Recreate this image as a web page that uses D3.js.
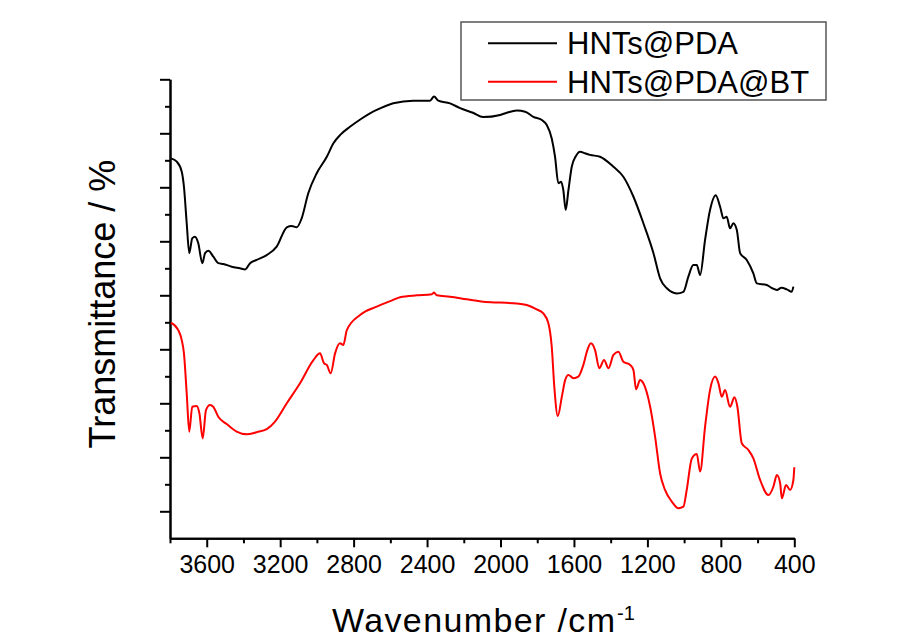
<!DOCTYPE html>
<html>
<head>
<meta charset="utf-8">
<script src="https://cdn.jsdelivr.net/npm/d3@7"></script>
<style>
  body { margin: 0; background: #fff; }
  svg { display: block; font-family: "Liberation Sans", Arial, sans-serif; }
</style>
</head>
<body>
<svg id="chart"></svg>
<script>
// FTIR spectra, wavenumber (cm-1) vs transmittance (arbitrary offset units)
const seriesNames = ["HNTs@PDA", "HNTs@PDA@BT"];
const seriesColors = ["#000000", "#ff0000"];

const pdaWn = [3795, 3763, 3736, 3724, 3709, 3695, 3679, 3664, 3646, 3624, 3609, 3591, 3564, 3537, 3510, 3464, 3419, 3391, 3364, 3328,
  3273, 3219, 3164, 3137, 3110, 3083, 3047, 3001, 2946, 2910, 2870, 2820, 2760, 2711, 2650, 2584, 2475, 2384, 2362, 2339,
  2275, 2220, 2150, 2095, 2002, 1966, 1911, 1866, 1821, 1775, 1748, 1721, 1703, 1685, 1670, 1658, 1645, 1630, 1612, 1590,
  1567, 1540, 1512, 1458, 1385, 1331, 1276, 1222, 1167, 1131, 1094, 1040, 1004, 977, 950, 931, 913, 886, 859, 828,
  804, 786, 768, 750, 732, 713, 695, 659, 623, 604, 550, 520, 495, 470, 441, 414, 405];
const pdaT = [140.7, 139.5, 135.8, 130.2, 116.7, 105.6, 111.1, 111.7, 109.3, 101.9, 105.6, 106.5, 104.3, 101.9, 101.6, 100.6, 100.0, 99.6, 101.9, 103.1,
  104.9, 108.0, 115.2, 115.7, 115.2, 118.5, 127.8, 135.2, 141.3, 146.3, 149.6, 152.4, 155.3, 157.4, 159.4, 161.1, 162.1, 162.1, 163.6, 162.1,
  161.1, 159.3, 157.6, 156.0, 156.8, 157.6, 158.4, 158.0, 156.1, 154.9, 153.1, 148.1, 141.3, 131.5, 132.1, 129.0, 121.6, 129.0, 137.6, 141.5,
  143.2, 142.6, 142.0, 141.3, 137.6, 133.9, 126.5, 116.7, 105.6, 96.3, 92.6, 90.7, 91.3, 96.9, 101.2, 101.2, 97.5, 110.5, 121.6, 127.1,
  122.8, 118.5, 119.1, 114.8, 116.7, 114.2, 105.6, 103.1, 98.1, 94.4, 93.8, 92.6, 92.0, 92.8, 92.2, 91.3, 93.2];

const btWn = [3795, 3755, 3736, 3724, 3709, 3695, 3679, 3655, 3640, 3622, 3604, 3582, 3564, 3537, 3491, 3437, 3382, 3328, 3273, 3228,
  3164, 3092, 3019, 2983, 2961, 2946, 2925, 2901, 2874, 2856, 2837, 2765, 2674, 2584, 2547, 2456, 2374, 2362, 2347, 2275,
  2184, 2093, 2002, 1911, 1857, 1803, 1767, 1739, 1721, 1707, 1688, 1666, 1648, 1630, 1603, 1576, 1549, 1527, 1508, 1485,
  1462, 1436, 1412, 1385, 1358, 1331, 1294, 1276, 1262, 1240, 1222, 1185, 1158, 1131, 1104, 1067, 1031, 1004, 986, 958,
  931, 913, 886, 859, 831, 813, 795, 777, 750, 726, 710, 686, 650, 623, 586, 541, 514, 495, 477, 468,
  445, 423, 405, 400];
const btT = [79.9, 77.1, 73.4, 68.5, 53.7, 39.5, 48.7, 49.0, 46.3, 37.0, 47.5, 49.4, 48.7, 45.0, 42.3, 39.5, 38.5, 39.3, 40.4, 43.2,
  50.0, 57.4, 66.0, 68.5, 64.8, 64.2, 61.1, 68.5, 72.2, 71.6, 77.1, 82.7, 85.8, 88.3, 89.3, 90.0, 90.4, 91.0, 90.0, 89.5,
  88.5, 87.6, 87.3, 87.0, 86.4, 84.8, 83.3, 79.6, 71.0, 56.1, 45.3, 52.4, 58.6, 60.5, 59.3, 59.9, 64.2, 69.7, 72.2, 69.7,
  63.0, 66.0, 63.0, 67.9, 69.1, 65.4, 64.2, 62.3, 55.2, 58.6, 57.4, 48.7, 37.6, 24.1, 17.9, 13.6, 11.1, 11.7, 17.9, 29.6,
  31.2, 24.7, 41.3, 54.9, 59.9, 57.4, 52.4, 54.9, 48.7, 52.2, 48.7, 35.2, 32.7, 29.6, 21.6, 16.0, 19.1, 23.4, 20.4, 14.8,
  19.7, 17.9, 21.6, 26.3];

const xMajorTicks = [3600, 3200, 2800, 2400, 2000, 1600, 1200, 800, 400];
const xMinorTicks = [3800, 3400, 3000, 2600, 2200, 1800, 1400, 1000, 600];
const yMajorTicks = [10, 30, 50, 70, 90, 110, 130, 150, 170];
const yMinorTicks = [20, 40, 60, 80, 100, 120, 140, 160];

const WIDTH = 905;
const HEIGHT = 640;
const PLOT = { left: 170, right: 794.3, top: 79.3, bottom: 538.3 };

const svg = d3.select("#chart")
  .attr("width", WIDTH)
  .attr("height", HEIGHT);

svg.append("rect").attr("width", WIDTH).attr("height", HEIGHT).attr("fill", "#fff");

const x = d3.scaleLinear().domain([3800, 400]).range([PLOT.left, PLOT.right]);
const y = d3.scaleLinear().domain([0, 170]).range([PLOT.bottom, PLOT.top]);

// axes: minor ticks first, then major ticks with labels
function styleAxis(g) {
  g.selectAll("path.domain").attr("stroke", "#000").attr("stroke-width", 2);
  g.selectAll(".tick line").attr("stroke", "#000").attr("stroke-width", 2);
}

svg.append("g")
  .attr("transform", `translate(0,${PLOT.bottom})`)
  .call(d3.axisBottom(x).tickValues(xMinorTicks).tickSize(5).tickSizeOuter(0).tickFormat(""))
  .call(styleAxis);

const xAxis = svg.append("g")
  .attr("transform", `translate(0,${PLOT.bottom})`)
  .call(d3.axisBottom(x).tickValues(xMajorTicks).tickSize(9).tickSizeOuter(0).tickPadding(8).tickFormat(d3.format("d")))
  .call(styleAxis);
xAxis.selectAll(".tick text")
  .attr("fill", "#000")
  .attr("font-size", 25)
  .attr("font-family", "Liberation Sans, Arial, sans-serif");

svg.append("g")
  .attr("transform", `translate(${PLOT.left},0)`)
  .call(d3.axisLeft(y).tickValues(yMinorTicks).tickSize(5).tickSizeOuter(0).tickFormat(""))
  .call(styleAxis);

svg.append("g")
  .attr("transform", `translate(${PLOT.left},0)`)
  .call(d3.axisLeft(y).tickValues(yMajorTicks).tickSize(10).tickSizeOuter(0).tickFormat(""))
  .call(styleAxis);

// spectra
const line = d3.line()
  .x(d => x(d[0]))
  .y(d => y(d[1]))
  .curve(d3.curveMonotoneX);

const series = [
  d3.zip(pdaWn, pdaT),
  d3.zip(btWn, btT)
];

series.forEach((pts, i) => {
  svg.append("path")
    .datum(pts)
    .attr("fill", "none")
    .attr("stroke", seriesColors[i])
    .attr("stroke-width", 2)
    .attr("stroke-linejoin", "round")
    .attr("d", line);
});

// axis titles
svg.append("text")
  .attr("transform", "translate(115,304) rotate(-90)")
  .attr("text-anchor", "middle")
  .attr("font-size", 36)
  .attr("fill", "#000")
  .text("Transmittance / %");

svg.append("text")
  .attr("x", 332)
  .attr("y", 631.7)
  .attr("font-size", 34)
  .attr("fill", "#000")
  .attr("textLength", 283)
  .attr("lengthAdjust", "spacing")
  .text("Wavenumber /cm");
svg.append("text")
  .attr("x", 617)
  .attr("y", 620)
  .attr("font-size", 20)
  .attr("fill", "#000")
  .text("-1");

// legend
const legend = svg.append("g");
legend.append("rect")
  .attr("x", 461).attr("y", 22)
  .attr("width", 365).attr("height", 78)
  .attr("fill", "#fff")
  .attr("stroke", "#555")
  .attr("stroke-width", 1.5);

seriesNames.forEach((name, i) => {
  const cy = 43.3 + i * 38.4;
  legend.append("line")
    .attr("x1", 488).attr("x2", 557)
    .attr("y1", cy).attr("y2", cy)
    .attr("stroke", seriesColors[i])
    .attr("stroke-width", 2);
  legend.append("text")
    .attr("x", 567)
    .attr("y", cy + 11)
    .attr("font-size", 31)
    .attr("fill", "#000")
    .text(name);
});
</script>
</body>
</html>
